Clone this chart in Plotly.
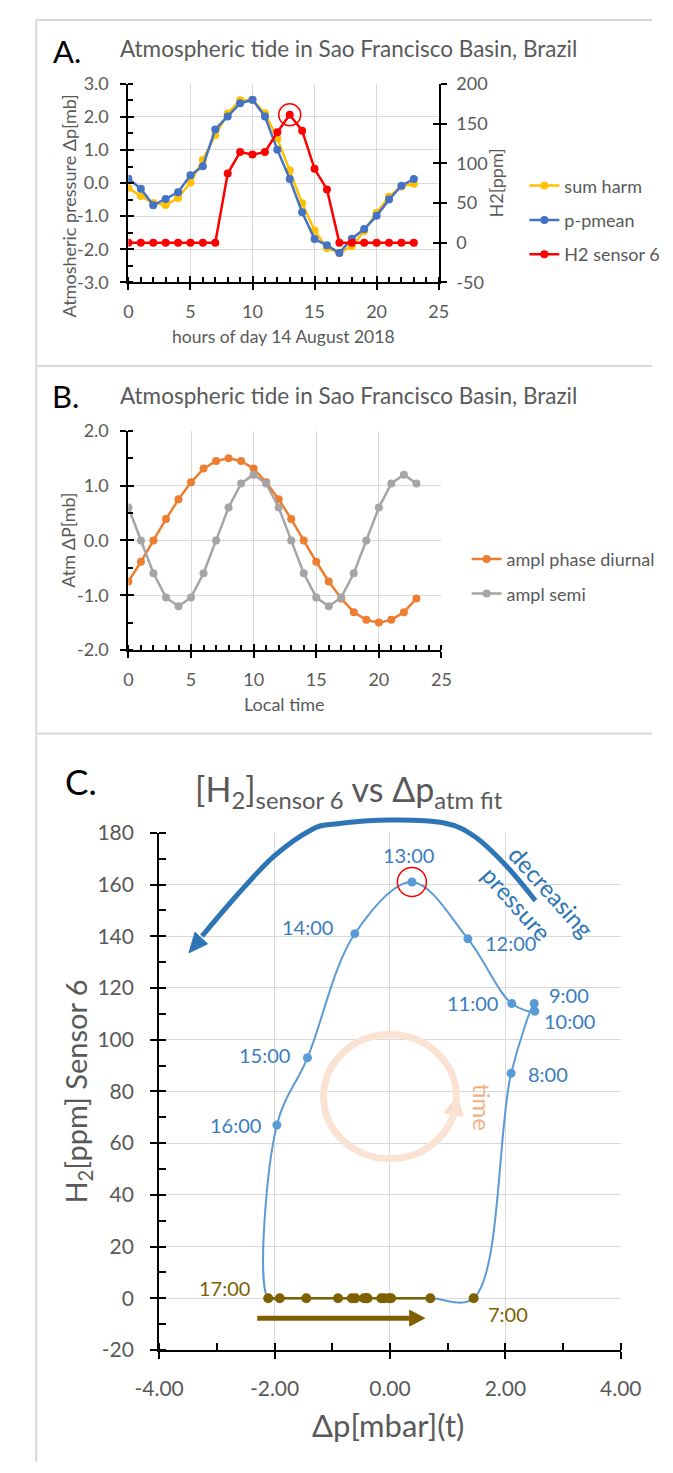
import math
import plotly.graph_objects as go

# ---------------- data ----------------
hours = list(range(24))

# harmonic fit (diurnal + semidiurnal), mb
sum_harm = [-0.15, -0.39, -0.60, -0.66, -0.45, 0.02, 0.70, 1.45, 2.10, 2.50, 2.51, 2.11,
            1.35, 0.38, -0.61, -1.43, -1.96, -2.11, -1.91, -1.45, -0.90, -0.41, -0.10, -0.02]
# measured pressure minus mean, mb
p_pmean = [0.13, -0.17, -0.67, -0.48, -0.28, 0.24, 0.51, 1.62, 2.01, 2.41, 2.52, 2.01,
           1.01, 0.12, -0.88, -1.69, -1.88, -2.11, -1.68, -1.39, -0.99, -0.50, -0.08, 0.12]
# H2 concentration, sensor 6, ppm
h2_sensor6 = [0, 0, 0, 0, 0, 0, 0, 0, 87, 114, 111, 114,
              139, 161, 141, 93, 67, 0, 0, 0, 0, 0, 0, 0]
# harmonic components, mb
diurnal = [-0.75, -0.39, 0.00, 0.39, 0.75, 1.06, 1.31, 1.45, 1.50, 1.45, 1.31, 1.06,
           0.75, 0.39, 0.00, -0.39, -0.75, -1.06, -1.31, -1.45, -1.50, -1.45, -1.31, -1.06]
semi = [0.60, 0.00, -0.60, -1.04, -1.20, -1.04, -0.60, 0.00, 0.60, 1.04, 1.20, 1.04,
        0.60, 0.00, -0.60, -1.04, -1.20, -1.04, -0.60, 0.00, 0.60, 1.04, 1.20, 1.04]

hour_labels = [f"{h}:00" for h in hours]

# tick values / labels (hyphen minus as in the spreadsheet style)
ticks_a_left = [-3, -2, -1, 0, 1, 2, 3]
ticks_a_right = [-50, 0, 50, 100, 150, 200]
ticks_b = [-2, -1, 0, 1, 2]
ticks_hours = [0, 5, 10, 15, 20, 25]
ticks_c_x = [-4, -2, 0, 2, 4]
ticks_c_y = [-20, 0, 20, 40, 60, 80, 100, 120, 140, 160, 180]

# ---------------- style ----------------
W, H = 673, 1473
FONT = "Lato"
TXT = "#595959"
GRID = "#D9D9D9"
YELLOW, BLUE, RED = "#FFC000", "#4472C4", "#FF0000"
ORANGE, GRAY = "#ED7D31", "#A5A5A5"
LBLUE, LABBLUE, DBLUE = "#5B9BD5", "#3A7DC0", "#2E75B6"
BROWN = "#7F6000"
PEACH = "#FBE3D3"


def px(x):
    return x / W


def py(y):
    return 1 - y / H


def fmt(v, nd):
    s = f"{abs(v):.{nd}f}"
    return ("-" + s) if v < 0 else s


fig = go.Figure()

# ---------------- panel A ----------------
fig.add_trace(go.Scatter(x=hours, y=sum_harm, name="sum harm", mode="lines+markers",
                         line=dict(color=YELLOW, width=2.5), marker=dict(size=8, color=YELLOW),
                         xaxis="x", yaxis="y", legend="legend", legendgroup="a1"))
fig.add_trace(go.Scatter(x=hours, y=p_pmean, name="p-pmean", mode="lines+markers",
                         line=dict(color=BLUE, width=2.5), marker=dict(size=8, color=BLUE),
                         xaxis="x", yaxis="y", legend="legend", legendgroup="a2"))
fig.add_trace(go.Scatter(x=hours, y=h2_sensor6, name="H2 sensor 6", mode="lines+markers",
                         line=dict(color=RED, width=2.5), marker=dict(size=8, color=RED),
                         xaxis="x", yaxis="y2", legend="legend", legendgroup="a3"))
peak = max(range(24), key=lambda i: h2_sensor6[i])
fig.add_trace(go.Scatter(x=[hours[peak]], y=[h2_sensor6[peak]], mode="markers",
                         marker=dict(symbol="circle-open", size=22, color=RED, line=dict(width=1.5)),
                         xaxis="x", yaxis="y2", showlegend=False))

# ---------------- panel B ----------------
fig.add_trace(go.Scatter(x=hours, y=diurnal, name="ampl phase diurnal", mode="lines+markers",
                         line=dict(color=ORANGE, width=2.5), marker=dict(size=8, color=ORANGE),
                         xaxis="x2", yaxis="y3", legend="legend2", legendgroup="b1"))
fig.add_trace(go.Scatter(x=hours, y=semi, name="ampl semi", mode="lines+markers",
                         line=dict(color=GRAY, width=2.5), marker=dict(size=8, color=GRAY),
                         xaxis="x2", yaxis="y3", legend="legend2", legendgroup="b2"))

# ---------------- panel C ----------------
# full daily loop (time order) as a smoothed line
fig.add_trace(go.Scatter(x=sum_harm, y=h2_sensor6, mode="lines",
                         line=dict(color=LBLUE, width=2, shape="spline"),
                         xaxis="x3", yaxis="y4", showlegend=False))
night = list(range(17, 24)) + list(range(0, 7))
fig.add_trace(go.Scatter(x=[sum_harm[i] for i in night], y=[h2_sensor6[i] for i in night],
                         mode="lines", line=dict(color=BROWN, width=2.5, shape="spline"),
                         xaxis="x3", yaxis="y4", showlegend=False))
night_pts = night + [7]
fig.add_trace(go.Scatter(x=[sum_harm[i] for i in night_pts], y=[h2_sensor6[i] for i in night_pts],
                         mode="markers", marker=dict(size=10, color=BROWN),
                         xaxis="x3", yaxis="y4", showlegend=False))
day = list(range(8, 17))
fig.add_trace(go.Scatter(x=[sum_harm[i] for i in day], y=[h2_sensor6[i] for i in day],
                         mode="markers", marker=dict(size=9, color=LBLUE),
                         xaxis="x3", yaxis="y4", showlegend=False))
fig.add_trace(go.Scatter(x=[sum_harm[peak]], y=[h2_sensor6[peak]], mode="markers",
                         marker=dict(symbol="circle-open", size=29, color=RED, line=dict(width=1.5)),
                         xaxis="x3", yaxis="y4", showlegend=False))

# empty traces that carry the inward half of the crossing major ticks
for xa, ya in [("x4", "y"), ("x", "y5"), ("x", "y8"), ("x5", "y3"), ("x2", "y6"),
               ("x6", "y4"), ("x3", "y7")]:
    fig.add_trace(go.Scatter(x=[None], y=[None], xaxis=xa, yaxis=ya, showlegend=False,
                             hoverinfo="skip"))

# ---------------- axes ----------------
tickfont = dict(family=FONT, size=18, color=TXT)
tickfont_c = dict(family=FONT, size=21, color=TXT)


def axis_style(**kw):
    d = dict(showgrid=True, gridcolor=GRID, gridwidth=1, zeroline=False,
             showline=True, linecolor="black", linewidth=2,
             ticks="outside", ticklen=6, tickwidth=2, tickcolor="black",
             tickfont=tickfont, fixedrange=True)
    d.update(kw)
    return d


def inner_ticks(over, anchor, rng, vals, side=None, ticklen=6):
    d = dict(overlaying=over, anchor=anchor, range=rng, tickmode="array", tickvals=vals,
             ticks="inside", ticklen=ticklen, tickwidth=2, tickcolor="black",
             showticklabels=False, showgrid=False, zeroline=False, showline=False,
             fixedrange=True)
    if side:
        d["side"] = side
    return d


def minor(dt, ln=5):
    return dict(ticks="inside", dtick=dt, ticklen=ln, tickwidth=1.5, tickcolor="black",
                showgrid=False)


fig.update_layout(
    xaxis=axis_style(domain=[px(111), px(444)], anchor="y", range=[0, 25],
                     tickmode="array", tickvals=ticks_hours, ticktext=[str(v) for v in ticks_hours],
                     minor=minor(1), ticklabelstandoff=6),
    yaxis=axis_style(domain=[py(273), py(71)], anchor="x", range=[-3, 3],
                     tickmode="array", tickvals=ticks_a_left,
                     ticktext=[fmt(v, 1) for v in ticks_a_left],
                     minor=minor(0.5), ticklabelstandoff=8),
    yaxis2=axis_style(overlaying="y", side="right", anchor="x", range=[-50, 200],
                      tickmode="array", tickvals=ticks_a_right,
                      ticktext=[fmt(v, 0) for v in ticks_a_right],
                      showgrid=False, ticklabelstandoff=6),
    xaxis4=inner_ticks("x", "y", [0, 25], ticks_hours),
    yaxis5=inner_ticks("y", "x", [-3, 3], ticks_a_left),
    yaxis8=inner_ticks("y", "x", [-50, 200], ticks_a_right, side="right"),

    xaxis2=axis_style(domain=[px(111), px(447)], anchor="y3", range=[0, 25],
                      tickmode="array", tickvals=ticks_hours, ticktext=[str(v) for v in ticks_hours],
                      minor=minor(1), ticklabelstandoff=6),
    yaxis3=axis_style(domain=[py(647), py(424)], anchor="x2", range=[-2, 2],
                      tickmode="array", tickvals=ticks_b, ticktext=[fmt(v, 1) for v in ticks_b],
                      minor=minor(0.5), ticklabelstandoff=8),
    xaxis5=inner_ticks("x2", "y3", [0, 25], ticks_hours),
    yaxis6=inner_ticks("y3", "x2", [-2, 2], ticks_b),

    xaxis3=axis_style(domain=[px(144), px(639.5)], anchor="y4", range=[-4, 4],
                      tickmode="array", tickvals=ticks_c_x, ticktext=[fmt(v, 2) for v in ticks_c_x],
                      ticklabelstandoff=12, tickfont=tickfont_c, ticklen=7, minor=minor(1, 7)),
    yaxis4=axis_style(domain=[py(1359), py(833)], anchor="x3", range=[-20, 180],
                      tickmode="array", tickvals=ticks_c_y, ticktext=[fmt(v, 0) for v in ticks_c_y],
                      ticklabelstandoff=12, tickfont=tickfont_c, ticklen=7, minor=minor(10, 7)),
    xaxis6=inner_ticks("x3", "y4", [-4, 4], ticks_c_x, ticklen=7),
    yaxis7=inner_ticks("y4", "x3", [-20, 180], ticks_c_y, ticklen=7),
)

# ---------------- legends ----------------
fig.update_layout(
    legend=dict(x=px(536), y=py(156), xanchor="left", yanchor="top", bgcolor="rgba(0,0,0,0)",
                font=dict(family=FONT, size=18, color=TXT), tracegroupgap=8, itemwidth=30),
    legend2=dict(x=px(474), y=py(536), xanchor="left", yanchor="top", bgcolor="rgba(0,0,0,0)",
                 font=dict(family=FONT, size=18, color=TXT), tracegroupgap=8, itemwidth=30),
)

# ---------------- text ----------------
ann = []


def note(text, x, y, size, color=TXT, angle=0, **kw):
    ann.append(dict(text=text, x=px(x), y=py(y), xref="paper", yref="paper", showarrow=False,
                    font=dict(family=FONT, size=size, color=color), textangle=angle,
                    xanchor="center", yanchor="middle", **kw))


title = "Atmospheric tide in Sao Francisco Basin, Brazil"
note("A.", 45, 38, 31, "black")
note(title, 347, 35, 22.5)
note("Atmosheric pressure Δp[mb]", 47, 195, 18, angle=-90)
note("H2[ppm]", 506, 172, 18, angle=-90)
note("hours of day 14 August 2018", 278, 328, 17.5)

note("B.", 44, 389, 31, "black")
note(title, 347, 388, 22.5)
note("Atm ΔP[mb]", 46, 535, 18, angle=-90)
note("Local time", 279, 702, 18)

note("C.", 60, 780, 35, "black")
note("[H<sub>2</sub>]<sub>sensor 6</sub> vs Δp<sub>atm fit</sub>", 348, 790, 34)
note("H<sub>2</sub>[ppm] Sensor 6", 56, 1096, 29, angle=-90)
note("Δp[mbar](t)", 390, 1435, 31)

# hour labels next to the loop points: (hour, anchor, xshift, yshift)
label_pos = [(7, "left", 12, -16), (8, "left", 15, -1), (9, "left", 13, 8), (10, "left", 7, -10),
             (11, "right", -12, 0), (12, "left", 15, -4), (13, "center", -3, 27),
             (14, "right", -20, 7), (15, "right", -15, 3), (16, "right", -14, 0),
             (17, "right", -16, 10)]
for h, anchor, xs, ys in label_pos:
    ann.append(dict(text=hour_labels[h], x=sum_harm[h], y=h2_sensor6[h], xref="x3", yref="y4",
                    showarrow=False, xanchor=anchor, yanchor="middle", xshift=xs, yshift=ys,
                    font=dict(family=FONT, size=20,
                              color=BROWN if h2_sensor6[h] == 0 else LABBLUE)))

note("decreasing", 565, 893, 24, DBLUE, angle=48)
note("pressure", 528, 905, 24, DBLUE, angle=48)
note("time", 491, 1112, 24, "#F4B183", angle=90)

fig.update_layout(annotations=ann)

# ---------------- shapes ----------------
shapes = []


def border(x0, y0, x1, y1):
    shapes.append(dict(type="line", xref="paper", yref="paper", x0=px(x0), y0=py(y0),
                       x1=px(x1), y1=py(y1), line=dict(color="#D9D9D9", width=2)))


border(12, 6, 12, 1473)
border(12, 6, 673, 6)
border(12, 358, 673, 358)
border(12, 732, 673, 732)


def head_path(tail, tip, length, half):
    """Triangle arrowhead (pixel space) pointing from tail to tip, as a paper path."""
    dx, dy = tip[0] - tail[0], tip[1] - tail[1]
    n = math.hypot(dx, dy)
    ux, uy = dx / n, dy / n
    bx, by = tip[0] - ux * length, tip[1] - uy * length
    c1 = (bx - uy * half, by + ux * half)
    c2 = (bx + uy * half, by - ux * half)
    return (f"M {px(tip[0]):.5f},{py(tip[1]):.5f} L {px(c1[0]):.5f},{py(c1[1]):.5f} "
            f"L {px(c2[0]):.5f},{py(c2[1]):.5f} Z")


# arc of the "decreasing pressure" arrow (Catmull-Rom through guide points, pixel space)
arc = [(548, 902), (517, 867), (483, 837), (450, 823), (393, 820), (333, 824),
       (307, 830), (267, 857), (227, 897), (190, 938)]
arc_tip = (176, 955)


def catmull_path(pts):
    d = f"M {px(pts[0][0]):.5f},{py(pts[0][1]):.5f}"
    n = len(pts)
    for i in range(n - 1):
        p0 = pts[max(i - 1, 0)]
        p1 = pts[i]
        p2 = pts[i + 1]
        p3 = pts[min(i + 2, n - 1)]
        c1 = (p1[0] + (p2[0] - p0[0]) / 6, p1[1] + (p2[1] - p0[1]) / 6)
        c2 = (p2[0] - (p3[0] - p1[0]) / 6, p2[1] - (p3[1] - p1[1]) / 6)
        d += (f" C {px(c1[0]):.5f},{py(c1[1]):.5f} {px(c2[0]):.5f},{py(c2[1]):.5f}"
              f" {px(p2[0]):.5f},{py(p2[1]):.5f}")
    return d


shapes.append(dict(type="path", xref="paper", yref="paper", path=catmull_path(arc),
                   line=dict(color=DBLUE, width=5)))
shapes.append(dict(type="path", xref="paper", yref="paper",
                   path=head_path(arc[-2], arc_tip, 20, 9),
                   fillcolor=DBLUE, line=dict(color=DBLUE, width=1)))

# faint time circle with its arrowhead
shapes.append(dict(type="circle", xref="x3", yref="y4", x0=-1.15, x1=1.15, y0=54, y1=102,
                   line=dict(color=PEACH, width=7), layer="between"))
shapes.append(dict(type="path", xref="paper", yref="paper",
                   path=head_path((459, 1126), (464, 1100), 20, 10),
                   fillcolor="#FADCC8", line=dict(color="#FADCC8", width=1), layer="between"))

# brown time arrow along the night branch (data units of panel C)
c_px_per_x = (639.5 - 144) / 8
c_px_per_y = (1359 - 833) / 200
arrow_x0, arrow_x1, arrow_y = -2.3, 0.6, -7.7
head_len = 16 / c_px_per_x
head_half = 8 / c_px_per_y
shapes.append(dict(type="line", xref="x3", yref="y4", x0=arrow_x0, y0=arrow_y,
                   x1=arrow_x1 - head_len, y1=arrow_y, line=dict(color=BROWN, width=5)))
shapes.append(dict(type="path", xref="x3", yref="y4",
                   path=(f"M {arrow_x1},{arrow_y} L {arrow_x1 - head_len},{arrow_y + head_half} "
                         f"L {arrow_x1 - head_len},{arrow_y - head_half} Z"),
                   fillcolor=BROWN, line=dict(color=BROWN, width=1)))

fig.update_layout(shapes=shapes)

fig.update_layout(width=W, height=H, margin=dict(l=0, r=0, t=0, b=0),
                  paper_bgcolor="white", plot_bgcolor="white", showlegend=True)

fig.write_html("out.html")
